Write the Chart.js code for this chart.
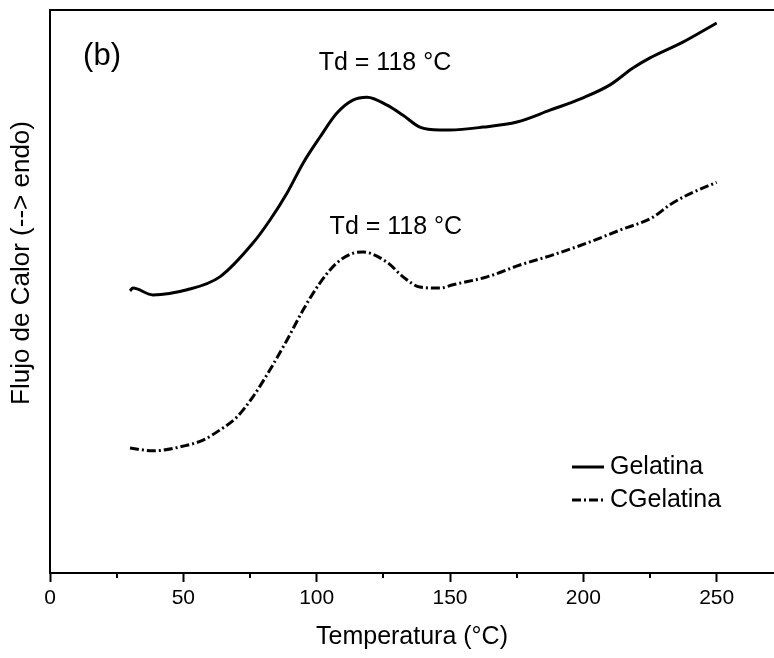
<!DOCTYPE html>
<html>
<head>
<meta charset="utf-8">
<script src="https://cdn.jsdelivr.net/npm/chart.js@4.4.0/dist/chart.umd.min.js"></script>
<style>
  html, body { margin: 0; padding: 0; background: #fff; }
  #wrap { width: 774px; height: 658px; }
</style>
</head>
<body>
<div id="wrap"><canvas id="dsc"></canvas></div>
<script>
// Gelatina (solid line)
var gelTemp = [30, 31.1, 38.6, 51.4, 63.7, 76.1, 82.5, 88.9, 94.9, 101.2, 107.6, 113.6, 118.9, 126.4, 132.4, 138.7, 146.2, 150, 162.4, 175.1, 187.5, 199.9, 210, 218.6, 225, 237.3, 250];
var gelFlow = [50.1, 50.6, 49.4, 50.3, 52.6, 58.6, 62.7, 67.5, 72.8, 77.4, 81.7, 84.0, 84.5, 83.1, 81.3, 79.2, 78.7, 78.7, 79.2, 80.1, 82.2, 84.4, 86.7, 89.7, 91.5, 94.3, 97.7];

// CGelatina (dash-dot line)
var cgelTemp = [30, 38.6, 51.4, 57.4, 63.7, 70.1, 76.1, 82.5, 88.9, 94.9, 101.2, 107.6, 113.6, 117.4, 126.4, 132.4, 138.7, 146.2, 151.1, 163.9, 176.2, 188.6, 201.3, 213.7, 226.1, 232.5, 238.8, 250];
var cgelFlow = [22.2, 21.7, 22.7, 23.6, 25.4, 27.7, 31.3, 36.1, 41.4, 46.7, 51.5, 55.1, 56.8, 57.0, 55.2, 52.6, 50.8, 50.6, 51.2, 52.6, 54.7, 56.5, 58.6, 60.9, 63.2, 65.4, 67.1, 69.4];

var seriesNames = ["Gelatina", "CGelatina"];
var xTicks = [0, 50, 100, 150, 200, 250];
var xMinorTicks = [25, 75, 125, 175, 225];
var peakLabel = "Td = 118 °C";

function toPoints(xs, ys) {
    var pts = [];
    for (var i = 0; i < xs.length; i++) pts.push({ x: xs[i], y: ys[i] });
    return pts;
}

var dashDot = [9, 3, 2, 3];
var fontFam = "'Liberation Sans', Arial, sans-serif";

// extras: top frame, minor ticks, y title, annotations, legend
var extras = {
    id: 'extras',
    afterDraw: function (chart) {
        var ctx = chart.ctx;
        var xs = chart.scales.x, ys = chart.scales.y;
        var area = chart.chartArea;
        ctx.save();
        ctx.strokeStyle = '#000';
        ctx.lineWidth = 2;
        ctx.beginPath();
        ctx.moveTo(area.left, area.top);
        ctx.lineTo(area.right, area.top);
        ctx.stroke();

        // minor ticks
        xMinorTicks.forEach(function (v) {
            var px = Math.round(xs.getPixelForValue(v));
            ctx.beginPath();
            ctx.moveTo(px, area.bottom);
            ctx.lineTo(px, area.bottom + 5);
            ctx.stroke();
        });

        ctx.fillStyle = '#000';
        ctx.textBaseline = 'middle';

        // y axis title
        ctx.save();
        ctx.translate(22, 263);
        ctx.rotate(-Math.PI / 2);
        ctx.textAlign = 'center';
        ctx.font = '26px ' + fontFam;
        ctx.fillText('Flujo de Calor (--> endo)', 0, 0);
        ctx.restore();

        ctx.font = '31px ' + fontFam;
        ctx.textAlign = 'left';
        ctx.fillText('(b)', xs.getPixelForValue(12.4), ys.getPixelForValue(91.7));

        ctx.font = '25px ' + fontFam;
        ctx.textAlign = 'center';
        ctx.fillText(peakLabel, xs.getPixelForValue(125.6), ys.getPixelForValue(90.6));
        ctx.fillText(peakLabel, xs.getPixelForValue(129.7), ys.getPixelForValue(61.5));

        // legend
        var lx0 = 572, lx1 = 604;
        var rows = [467, 500];
        ctx.textAlign = 'left';
        for (var i = 0; i < 2; i++) {
            ctx.lineWidth = 3;
            ctx.setLineDash(i === 0 ? [] : dashDot);
            ctx.beginPath();
            ctx.moveTo(lx0, rows[i]);
            ctx.lineTo(lx1, rows[i]);
            ctx.stroke();
            ctx.setLineDash([]);
            ctx.fillText(seriesNames[i], lx1 + 6, rows[i]);
        }
        ctx.restore();
    }
};

var ctx = document.getElementById('dsc').getContext('2d');
var myChart = new Chart(ctx, {
    type: 'line',
    data: {
        datasets: [{
            label: seriesNames[0],
            data: toPoints(gelTemp, gelFlow),
            borderColor: '#000',
            borderWidth: 3,
            pointRadius: 0,
            cubicInterpolationMode: 'monotone',
            fill: false
        }, {
            label: seriesNames[1],
            data: toPoints(cgelTemp, cgelFlow),
            borderColor: '#000',
            borderWidth: 3,
            borderDash: dashDot,
            pointRadius: 0,
            cubicInterpolationMode: 'monotone',
            fill: false
        }]
    },
    options: {
        responsive: true,
        maintainAspectRatio: false,
        animation: false,
        layout: { padding: { top: 10, right: 0, bottom: 0, left: 0 } },
        plugins: {
            legend: { display: false },
            tooltip: { enabled: false }
        },
        scales: {
            x: {
                type: 'linear',
                min: 0,
                max: 271.5,
                afterBuildTicks: function (scale) {
                    scale.ticks = xTicks.map(function (v) { return { value: v }; });
                },
                afterFit: function (scale) { scale.height = 85; },
                grid: {
                    drawOnChartArea: false,
                    drawTicks: true,
                    tickLength: 9,
                    tickWidth: 2,
                    tickColor: '#000'
                },
                border: { display: true, color: '#000', width: 2 },
                ticks: {
                    color: '#000',
                    padding: 4,
                    maxRotation: 0,
                    font: { family: fontFam, size: 21 }
                },
                title: {
                    display: true,
                    text: 'Temperatura (°C)',
                    color: '#000',
                    padding: { top: 4, bottom: 6 },
                    font: { family: fontFam, size: 25 }
                }
            },
            y: {
                type: 'linear',
                min: 0,
                max: 100,
                afterFit: function (scale) { scale.width = 50; },
                grid: { display: false, drawTicks: false },
                border: { display: true, color: '#000', width: 2 },
                ticks: { display: false },
                title: { display: false }
            }
        }
    },
    plugins: [extras]
});
</script>
</body>
</html>
